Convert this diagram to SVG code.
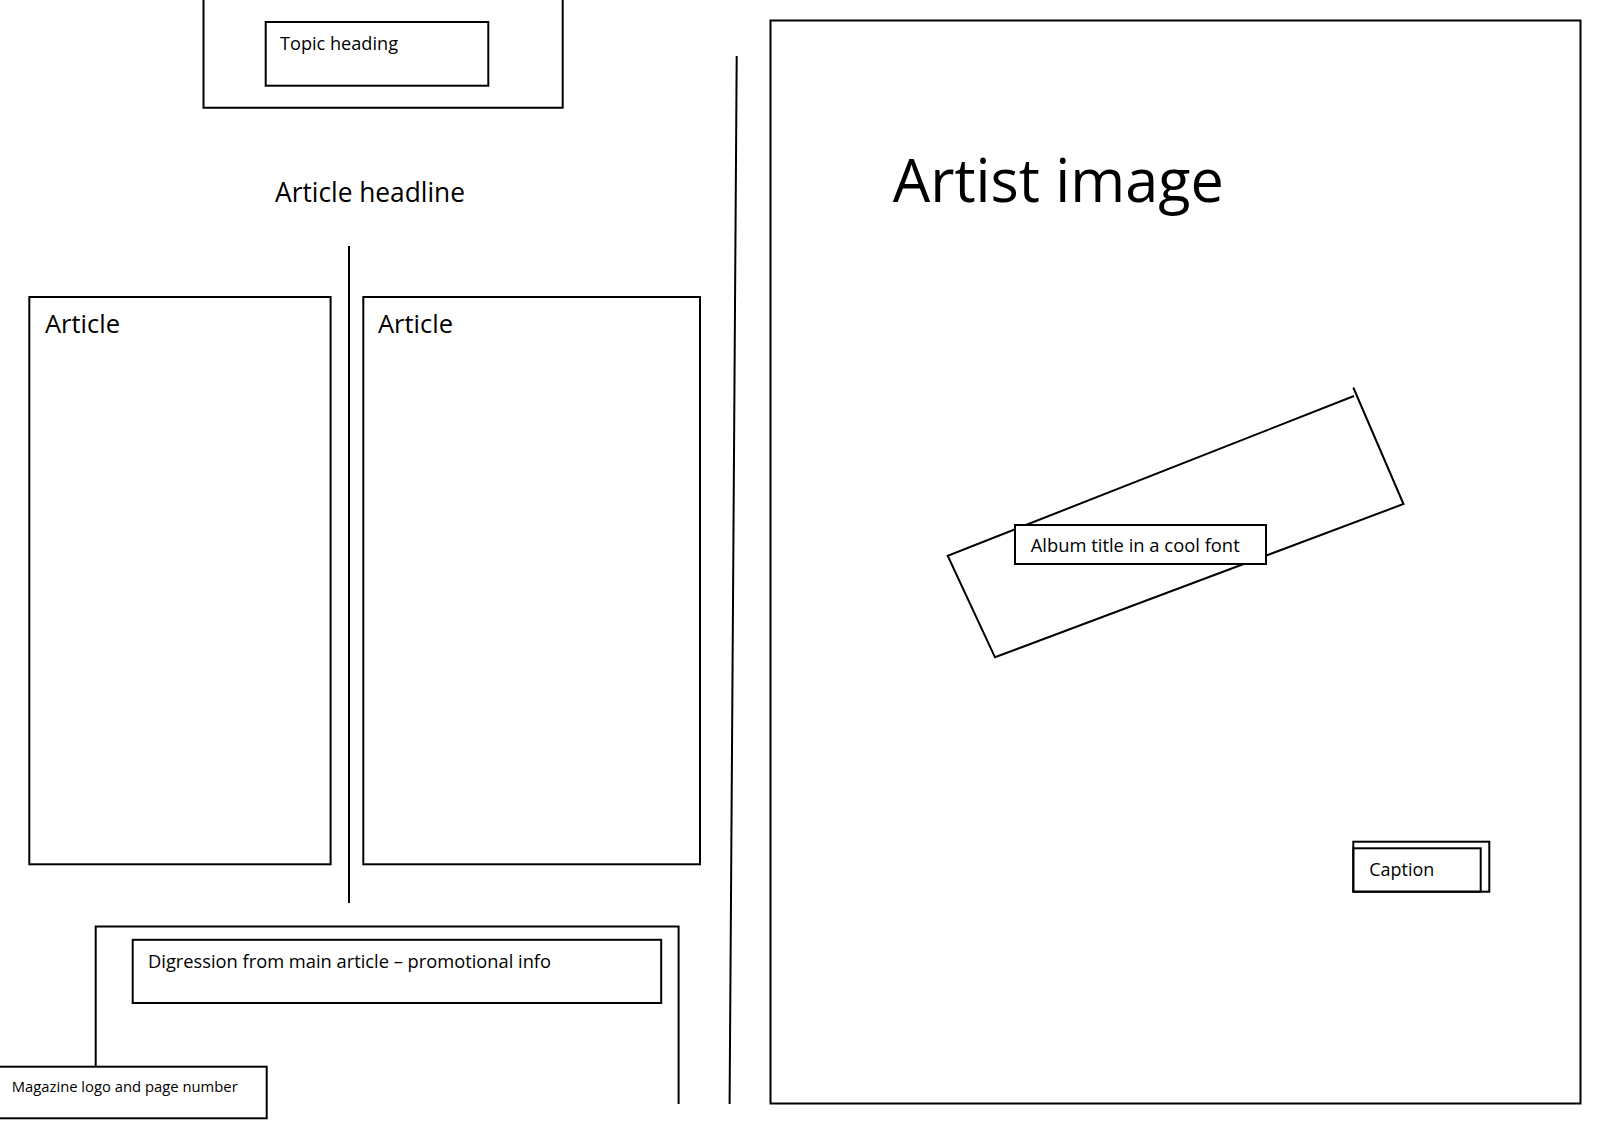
<svg xmlns="http://www.w3.org/2000/svg" width="1600" height="1131" viewBox="0 0 1600 1131">
<style>
.box{fill:none;stroke:#000;stroke-width:2}
.wbox{fill:#fff;stroke:#000;stroke-width:2}
.ln{fill:none;stroke:#000;stroke-width:2}
text{font-family:"Open Sans","Noto Sans","DejaVu Sans",sans-serif;fill:#000}
</style>
<rect width="1600" height="1131" fill="#fff"/>
<g id="topic-outer"><path class="ln" d="M203.5 -2 V107.7 H562.7 V-2"/></g>
<g id="topic-heading"><rect class="box" x="265.7" y="22" width="222.6" height="63.7"/><text x="280" y="50" font-size="18.5" textLength="118" lengthAdjust="spacingAndGlyphs">Topic heading</text></g>
<g id="article-headline"><text x="275" y="201.7" font-size="26.5" textLength="190" lengthAdjust="spacingAndGlyphs">Article headline</text></g>
<g id="article-left"><rect class="box" x="29.3" y="297" width="301.3" height="567.3"/><text x="45" y="332.7" font-size="25" textLength="75" lengthAdjust="spacingAndGlyphs">Article</text></g>
<g id="article-right"><rect class="box" x="363.3" y="297" width="336.7" height="567.3"/><text x="378" y="332.7" font-size="25" textLength="75" lengthAdjust="spacingAndGlyphs">Article</text></g>
<g id="connectors">
<line class="ln" x1="349" y1="246" x2="349" y2="903"/>
<line class="ln" x1="736.7" y1="56" x2="729.6" y2="1104"/>
</g>
<g id="digression-outer"><path class="ln" d="M95.7 1066.7 V926.5 H678.6 V1104"/></g>
<g id="digression"><rect class="box" x="132.7" y="939.8" width="528.5" height="63.2"/><text x="148" y="967.5" font-size="18" textLength="403" lengthAdjust="spacingAndGlyphs">Digression from main article – promotional info</text></g>
<g id="logo"><rect class="wbox" x="-2" y="1066.7" width="268.7" height="51.6"/><text x="11.7" y="1091.7" font-size="15" textLength="226" lengthAdjust="spacingAndGlyphs">Magazine logo and page number</text></g>
<g id="artist-image"><rect class="box" x="770.5" y="20.5" width="810" height="1083"/><text x="892.7" y="201.7" font-size="60.5" textLength="331" lengthAdjust="spacingAndGlyphs">Artist image</text></g>
<g id="album-shape"><path class="ln" d="M1353.3 387.5 L1403.5 504 L995 657.3 L947.7 555.7 L1354 396"/></g>
<g id="album-title"><rect class="wbox" x="1015" y="525" width="251" height="39"/><text x="1030.7" y="551.7" font-size="17.8" textLength="209" lengthAdjust="spacingAndGlyphs">Album title in a cool font</text></g>
<g id="caption"><rect class="box" x="1353.3" y="841.7" width="136" height="50"/><rect class="box" x="1353.3" y="848.3" width="127.4" height="43.4"/><text x="1369.3" y="875.7" font-size="18.8" textLength="65" lengthAdjust="spacingAndGlyphs">Caption</text></g>
</svg>
